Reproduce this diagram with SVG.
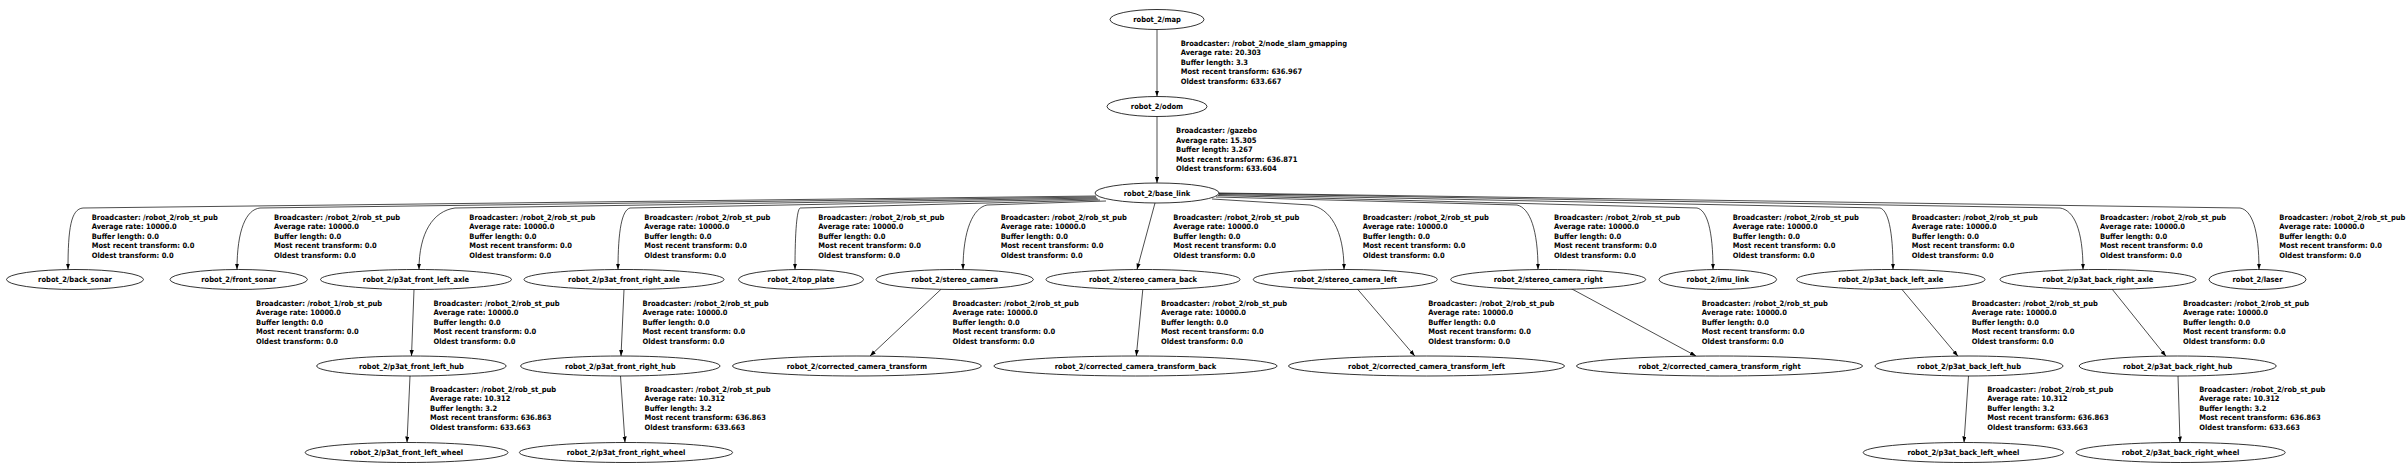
<svg xmlns="http://www.w3.org/2000/svg" width="2408" height="476" viewBox="0 0 2408 476">
<style>
text{font-family:"DejaVu Sans Condensed","DejaVu Sans",sans-serif;font-weight:bold;font-stretch:condensed;font-size:7.5px;fill:#000}
.n text{text-anchor:middle}
.n ellipse{fill:#fff;stroke:#000;stroke-width:0.8}
.e path{fill:none;stroke:#000;stroke-width:0.7;marker-end:url(#ah)}
</style>
<defs>
<marker id="ah" markerUnits="userSpaceOnUse" markerWidth="7" markerHeight="5" refX="6" refY="2.1" orient="auto"><path d="M0,0 L6,2.1 L0,4.2 z" fill="#000"/></marker>
</defs>
<rect width="2408" height="476" fill="#fff"/>
<g id="connectors" class="e">
<path d="M1157,29.5 L1157,96.5"/>
<path d="M1157,116.5 L1157,183"/>
<path d="M1096,196 L83,208 C71,209 68,228 68,269.5"/>
<path d="M1096,197 L260,208 C246,209.5 237,230 237,269.5"/>
<path d="M1097,198 L455,208 C433,211 419,233 419,269.5"/>
<path d="M1098,199 L630,208 C622,210 618,230 618,269.5"/>
<path d="M1100,200 L800,208 C797,210 795,230 795,269.5"/>
<path d="M1106,201 L987,205 C973,208 963,230 963,269.5"/>
<path d="M1155,203 L1137,269.5"/>
<path d="M1212,199 L1310,205 C1330,208 1344,230 1344,269.5"/>
<path d="M1216,197 L1517,205 C1530,208 1538,230 1538,269.5"/>
<path d="M1218,195.5 L1697,208 C1707,210 1713,230 1713,269.5"/>
<path d="M1219,194.5 L1880,208 C1888,210 1893,230 1893,269.5"/>
<path d="M1219,193.5 L2060,208 C2074,210 2083,230 2083,269.5"/>
<path d="M1219,193 L2240,208 C2252,210 2259,230 2259,269.5"/>
<path d="M414,289.5 L411.5,356"/>
<path d="M624,289.5 L621,356"/>
<path d="M941,289.3 L870,356"/>
<path d="M1142.8,289.5 L1136.3,356"/>
<path d="M1357.4,289 L1414.8,356"/>
<path d="M1571,288.5 L1696,356"/>
<path d="M1901.6,289 L1958,356.3"/>
<path d="M2112,289 L2166,356.3"/>
<path d="M410,376 L407,442.5"/>
<path d="M620.5,376 L625,442.5"/>
<path d="M1968.5,376 L1964,442.5"/>
<path d="M2178,376 L2180,442.5"/>
<g id="labels">
<text x="1180.7" y="46"><tspan x="1180.7">Broadcaster: /robot_2/node_slam_gmapping</tspan><tspan x="1180.7" dy="9.4">Average rate: 20.303</tspan><tspan x="1180.7" dy="9.4">Buffer length: 3.3</tspan><tspan x="1180.7" dy="9.4">Most recent transform: 636.967</tspan><tspan x="1180.7" dy="9.4">Oldest transform: 633.667</tspan></text>
<text x="1176" y="133.4"><tspan x="1176">Broadcaster: /gazebo</tspan><tspan x="1176" dy="9.4">Average rate: 15.305</tspan><tspan x="1176" dy="9.4">Buffer length: 3.267</tspan><tspan x="1176" dy="9.4">Most recent transform: 636.871</tspan><tspan x="1176" dy="9.4">Oldest transform: 633.604</tspan></text>
<text x="91.7" y="220"><tspan x="91.7">Broadcaster: /robot_2/rob_st_pub</tspan><tspan x="91.7" dy="9.4">Average rate: 10000.0</tspan><tspan x="91.7" dy="9.4">Buffer length: 0.0</tspan><tspan x="91.7" dy="9.4">Most recent transform: 0.0</tspan><tspan x="91.7" dy="9.4">Oldest transform: 0.0</tspan></text>
<text x="274" y="220"><tspan x="274">Broadcaster: /robot_2/rob_st_pub</tspan><tspan x="274" dy="9.4">Average rate: 10000.0</tspan><tspan x="274" dy="9.4">Buffer length: 0.0</tspan><tspan x="274" dy="9.4">Most recent transform: 0.0</tspan><tspan x="274" dy="9.4">Oldest transform: 0.0</tspan></text>
<text x="469.3" y="220"><tspan x="469.3">Broadcaster: /robot_2/rob_st_pub</tspan><tspan x="469.3" dy="9.4">Average rate: 10000.0</tspan><tspan x="469.3" dy="9.4">Buffer length: 0.0</tspan><tspan x="469.3" dy="9.4">Most recent transform: 0.0</tspan><tspan x="469.3" dy="9.4">Oldest transform: 0.0</tspan></text>
<text x="644.3" y="220"><tspan x="644.3">Broadcaster: /robot_2/rob_st_pub</tspan><tspan x="644.3" dy="9.4">Average rate: 10000.0</tspan><tspan x="644.3" dy="9.4">Buffer length: 0.0</tspan><tspan x="644.3" dy="9.4">Most recent transform: 0.0</tspan><tspan x="644.3" dy="9.4">Oldest transform: 0.0</tspan></text>
<text x="818.3" y="220"><tspan x="818.3">Broadcaster: /robot_2/rob_st_pub</tspan><tspan x="818.3" dy="9.4">Average rate: 10000.0</tspan><tspan x="818.3" dy="9.4">Buffer length: 0.0</tspan><tspan x="818.3" dy="9.4">Most recent transform: 0.0</tspan><tspan x="818.3" dy="9.4">Oldest transform: 0.0</tspan></text>
<text x="1000.7" y="220"><tspan x="1000.7">Broadcaster: /robot_2/rob_st_pub</tspan><tspan x="1000.7" dy="9.4">Average rate: 10000.0</tspan><tspan x="1000.7" dy="9.4">Buffer length: 0.0</tspan><tspan x="1000.7" dy="9.4">Most recent transform: 0.0</tspan><tspan x="1000.7" dy="9.4">Oldest transform: 0.0</tspan></text>
<text x="1173.3" y="220"><tspan x="1173.3">Broadcaster: /robot_2/rob_st_pub</tspan><tspan x="1173.3" dy="9.4">Average rate: 10000.0</tspan><tspan x="1173.3" dy="9.4">Buffer length: 0.0</tspan><tspan x="1173.3" dy="9.4">Most recent transform: 0.0</tspan><tspan x="1173.3" dy="9.4">Oldest transform: 0.0</tspan></text>
<text x="1362.7" y="220"><tspan x="1362.7">Broadcaster: /robot_2/rob_st_pub</tspan><tspan x="1362.7" dy="9.4">Average rate: 10000.0</tspan><tspan x="1362.7" dy="9.4">Buffer length: 0.0</tspan><tspan x="1362.7" dy="9.4">Most recent transform: 0.0</tspan><tspan x="1362.7" dy="9.4">Oldest transform: 0.0</tspan></text>
<text x="1554" y="220"><tspan x="1554">Broadcaster: /robot_2/rob_st_pub</tspan><tspan x="1554" dy="9.4">Average rate: 10000.0</tspan><tspan x="1554" dy="9.4">Buffer length: 0.0</tspan><tspan x="1554" dy="9.4">Most recent transform: 0.0</tspan><tspan x="1554" dy="9.4">Oldest transform: 0.0</tspan></text>
<text x="1732.7" y="220"><tspan x="1732.7">Broadcaster: /robot_2/rob_st_pub</tspan><tspan x="1732.7" dy="9.4">Average rate: 10000.0</tspan><tspan x="1732.7" dy="9.4">Buffer length: 0.0</tspan><tspan x="1732.7" dy="9.4">Most recent transform: 0.0</tspan><tspan x="1732.7" dy="9.4">Oldest transform: 0.0</tspan></text>
<text x="1911.7" y="220"><tspan x="1911.7">Broadcaster: /robot_2/rob_st_pub</tspan><tspan x="1911.7" dy="9.4">Average rate: 10000.0</tspan><tspan x="1911.7" dy="9.4">Buffer length: 0.0</tspan><tspan x="1911.7" dy="9.4">Most recent transform: 0.0</tspan><tspan x="1911.7" dy="9.4">Oldest transform: 0.0</tspan></text>
<text x="2100" y="220"><tspan x="2100">Broadcaster: /robot_2/rob_st_pub</tspan><tspan x="2100" dy="9.4">Average rate: 10000.0</tspan><tspan x="2100" dy="9.4">Buffer length: 0.0</tspan><tspan x="2100" dy="9.4">Most recent transform: 0.0</tspan><tspan x="2100" dy="9.4">Oldest transform: 0.0</tspan></text>
<text x="2279.3" y="220"><tspan x="2279.3">Broadcaster: /robot_2/rob_st_pub</tspan><tspan x="2279.3" dy="9.4">Average rate: 10000.0</tspan><tspan x="2279.3" dy="9.4">Buffer length: 0.0</tspan><tspan x="2279.3" dy="9.4">Most recent transform: 0.0</tspan><tspan x="2279.3" dy="9.4">Oldest transform: 0.0</tspan></text>
<text x="256" y="306"><tspan x="256">Broadcaster: /robot_1/rob_st_pub</tspan><tspan x="256" dy="9.4">Average rate: 10000.0</tspan><tspan x="256" dy="9.4">Buffer length: 0.0</tspan><tspan x="256" dy="9.4">Most recent transform: 0.0</tspan><tspan x="256" dy="9.4">Oldest transform: 0.0</tspan></text>
<text x="433.5" y="306"><tspan x="433.5">Broadcaster: /robot_2/rob_st_pub</tspan><tspan x="433.5" dy="9.4">Average rate: 10000.0</tspan><tspan x="433.5" dy="9.4">Buffer length: 0.0</tspan><tspan x="433.5" dy="9.4">Most recent transform: 0.0</tspan><tspan x="433.5" dy="9.4">Oldest transform: 0.0</tspan></text>
<text x="642.5" y="306"><tspan x="642.5">Broadcaster: /robot_2/rob_st_pub</tspan><tspan x="642.5" dy="9.4">Average rate: 10000.0</tspan><tspan x="642.5" dy="9.4">Buffer length: 0.0</tspan><tspan x="642.5" dy="9.4">Most recent transform: 0.0</tspan><tspan x="642.5" dy="9.4">Oldest transform: 0.0</tspan></text>
<text x="952.6" y="306"><tspan x="952.6">Broadcaster: /robot_2/rob_st_pub</tspan><tspan x="952.6" dy="9.4">Average rate: 10000.0</tspan><tspan x="952.6" dy="9.4">Buffer length: 0.0</tspan><tspan x="952.6" dy="9.4">Most recent transform: 0.0</tspan><tspan x="952.6" dy="9.4">Oldest transform: 0.0</tspan></text>
<text x="1161" y="306"><tspan x="1161">Broadcaster: /robot_2/rob_st_pub</tspan><tspan x="1161" dy="9.4">Average rate: 10000.0</tspan><tspan x="1161" dy="9.4">Buffer length: 0.0</tspan><tspan x="1161" dy="9.4">Most recent transform: 0.0</tspan><tspan x="1161" dy="9.4">Oldest transform: 0.0</tspan></text>
<text x="1428.2" y="306"><tspan x="1428.2">Broadcaster: /robot_2/rob_st_pub</tspan><tspan x="1428.2" dy="9.4">Average rate: 10000.0</tspan><tspan x="1428.2" dy="9.4">Buffer length: 0.0</tspan><tspan x="1428.2" dy="9.4">Most recent transform: 0.0</tspan><tspan x="1428.2" dy="9.4">Oldest transform: 0.0</tspan></text>
<text x="1701.8" y="306"><tspan x="1701.8">Broadcaster: /robot_2/rob_st_pub</tspan><tspan x="1701.8" dy="9.4">Average rate: 10000.0</tspan><tspan x="1701.8" dy="9.4">Buffer length: 0.0</tspan><tspan x="1701.8" dy="9.4">Most recent transform: 0.0</tspan><tspan x="1701.8" dy="9.4">Oldest transform: 0.0</tspan></text>
<text x="1971.7" y="306"><tspan x="1971.7">Broadcaster: /robot_2/rob_st_pub</tspan><tspan x="1971.7" dy="9.4">Average rate: 10000.0</tspan><tspan x="1971.7" dy="9.4">Buffer length: 0.0</tspan><tspan x="1971.7" dy="9.4">Most recent transform: 0.0</tspan><tspan x="1971.7" dy="9.4">Oldest transform: 0.0</tspan></text>
<text x="2183" y="306"><tspan x="2183">Broadcaster: /robot_2/rob_st_pub</tspan><tspan x="2183" dy="9.4">Average rate: 10000.0</tspan><tspan x="2183" dy="9.4">Buffer length: 0.0</tspan><tspan x="2183" dy="9.4">Most recent transform: 0.0</tspan><tspan x="2183" dy="9.4">Oldest transform: 0.0</tspan></text>
<text x="430" y="392"><tspan x="430">Broadcaster: /robot_2/rob_st_pub</tspan><tspan x="430" dy="9.4">Average rate: 10.312</tspan><tspan x="430" dy="9.4">Buffer length: 3.2</tspan><tspan x="430" dy="9.4">Most recent transform: 636.863</tspan><tspan x="430" dy="9.4">Oldest transform: 633.663</tspan></text>
<text x="644.5" y="392"><tspan x="644.5">Broadcaster: /robot_2/rob_st_pub</tspan><tspan x="644.5" dy="9.4">Average rate: 10.312</tspan><tspan x="644.5" dy="9.4">Buffer length: 3.2</tspan><tspan x="644.5" dy="9.4">Most recent transform: 636.863</tspan><tspan x="644.5" dy="9.4">Oldest transform: 633.663</tspan></text>
<text x="1987.2" y="392"><tspan x="1987.2">Broadcaster: /robot_2/rob_st_pub</tspan><tspan x="1987.2" dy="9.4">Average rate: 10.312</tspan><tspan x="1987.2" dy="9.4">Buffer length: 3.2</tspan><tspan x="1987.2" dy="9.4">Most recent transform: 636.863</tspan><tspan x="1987.2" dy="9.4">Oldest transform: 633.663</tspan></text>
<text x="2199.2" y="392"><tspan x="2199.2">Broadcaster: /robot_2/rob_st_pub</tspan><tspan x="2199.2" dy="9.4">Average rate: 10.312</tspan><tspan x="2199.2" dy="9.4">Buffer length: 3.2</tspan><tspan x="2199.2" dy="9.4">Most recent transform: 636.863</tspan><tspan x="2199.2" dy="9.4">Oldest transform: 633.663</tspan></text>
</g>
</g>
<g class="n">
<g id="map"><ellipse cx="1157" cy="19.5" rx="47" ry="10"/><text x="1157" y="22.2">robot_2/map</text></g>
<g id="odom"><ellipse cx="1157" cy="106.5" rx="50" ry="10"/><text x="1157" y="109.2">robot_2/odom</text></g>
<g id="base_link"><ellipse cx="1157" cy="193" rx="62" ry="10"/><text x="1157" y="195.7">robot_2/base_link</text></g>
<g id="back_sonar"><ellipse cx="75" cy="279.5" rx="68.5" ry="10"/><text x="75" y="282.2">robot_2/back_sonar</text></g>
<g id="front_sonar"><ellipse cx="238.7" cy="279.5" rx="68.7" ry="10"/><text x="238.7" y="282.2">robot_2/front_sonar</text></g>
<g id="p3at_front_left_axle"><ellipse cx="416" cy="279.5" rx="95.5" ry="10"/><text x="416" y="282.2">robot_2/p3at_front_left_axle</text></g>
<g id="p3at_front_right_axle"><ellipse cx="624" cy="279.5" rx="100" ry="10"/><text x="624" y="282.2">robot_2/p3at_front_right_axle</text></g>
<g id="top_plate"><ellipse cx="801" cy="279.5" rx="62.5" ry="10"/><text x="801" y="282.2">robot_2/top_plate</text></g>
<g id="stereo_camera"><ellipse cx="954.7" cy="279.5" rx="78.7" ry="10"/><text x="954.7" y="282.2">robot_2/stereo_camera</text></g>
<g id="stereo_camera_back"><ellipse cx="1143" cy="279.5" rx="97" ry="10"/><text x="1143" y="282.2">robot_2/stereo_camera_back</text></g>
<g id="stereo_camera_left"><ellipse cx="1345.3" cy="279.5" rx="92" ry="10"/><text x="1345.3" y="282.2">robot_2/stereo_camera_left</text></g>
<g id="stereo_camera_right"><ellipse cx="1548.2" cy="279.5" rx="97.5" ry="10"/><text x="1548.2" y="282.2">robot_2/stereo_camera_right</text></g>
<g id="imu_link"><ellipse cx="1717.8" cy="279.5" rx="58.8" ry="10"/><text x="1717.8" y="282.2">robot_2/imu_link</text></g>
<g id="p3at_back_left_axle"><ellipse cx="1890.8" cy="279.5" rx="94.2" ry="10"/><text x="1890.8" y="282.2">robot_2/p3at_back_left_axle</text></g>
<g id="p3at_back_right_axle"><ellipse cx="2098" cy="279.5" rx="98" ry="10"/><text x="2098" y="282.2">robot_2/p3at_back_right_axle</text></g>
<g id="laser"><ellipse cx="2257.5" cy="279.5" rx="48.5" ry="10"/><text x="2257.5" y="282.2">robot_2/laser</text></g>
<g id="p3at_front_left_hub"><ellipse cx="411.4" cy="366" rx="94.7" ry="10"/><text x="411.4" y="368.7">robot_2/p3at_front_left_hub</text></g>
<g id="p3at_front_right_hub"><ellipse cx="620.3" cy="366" rx="99.7" ry="10"/><text x="620.3" y="368.7">robot_2/p3at_front_right_hub</text></g>
<g id="corrected_camera_transform"><ellipse cx="856.9" cy="366" rx="124.4" ry="10"/><text x="856.9" y="368.7">robot_2/corrected_camera_transform</text></g>
<g id="corrected_camera_transform_back"><ellipse cx="1135.5" cy="366" rx="141.6" ry="10"/><text x="1135.5" y="368.7">robot_2/corrected_camera_transform_back</text></g>
<g id="corrected_camera_transform_left"><ellipse cx="1426.5" cy="366" rx="138" ry="10"/><text x="1426.5" y="368.7">robot_2/corrected_camera_transform_left</text></g>
<g id="corrected_camera_transform_right"><ellipse cx="1719.5" cy="366" rx="143" ry="10"/><text x="1719.5" y="368.7">robot_2/corrected_camera_transform_right</text></g>
<g id="p3at_back_left_hub"><ellipse cx="1969" cy="366" rx="94" ry="10"/><text x="1969" y="368.7">robot_2/p3at_back_left_hub</text></g>
<g id="p3at_back_right_hub"><ellipse cx="2177.7" cy="366" rx="98.5" ry="10"/><text x="2177.7" y="368.7">robot_2/p3at_back_right_hub</text></g>
<g id="p3at_front_left_wheel"><ellipse cx="406.6" cy="452.5" rx="101.4" ry="10"/><text x="406.6" y="455.2">robot_2/p3at_front_left_wheel</text></g>
<g id="p3at_front_right_wheel"><ellipse cx="626" cy="452.5" rx="106.6" ry="10"/><text x="626" y="455.2">robot_2/p3at_front_right_wheel</text></g>
<g id="p3at_back_left_wheel"><ellipse cx="1963.4" cy="452.5" rx="100.2" ry="10"/><text x="1963.4" y="455.2">robot_2/p3at_back_left_wheel</text></g>
<g id="p3at_back_right_wheel"><ellipse cx="2180.6" cy="452.5" rx="104.6" ry="10"/><text x="2180.6" y="455.2">robot_2/p3at_back_right_wheel</text></g>
</g>
</svg>
